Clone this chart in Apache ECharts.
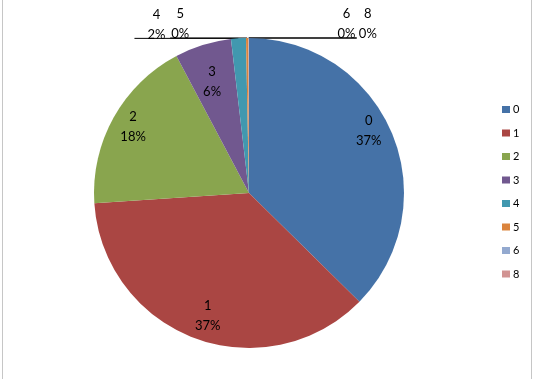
<!DOCTYPE html>
<html>
<head>
<meta charset="utf-8">
<script src="https://cdn.jsdelivr.net/npm/echarts@6/dist/echarts.min.js"></script>
<style>
html,body{margin:0;padding:0;background:#fff;}
#chart{width:535px;height:379px;}
</style>
</head>
<body>
<div id="chart"></div>
<script>
const categories = ['0', '1', '2', '3', '4', '5', '6', '8'];
const values = [37.4, 36.6, 18.3, 5.9, 1.55, 0.25, 0.03, 0.03];
const colors = ['#4572A7', '#AA4643', '#89A54E', '#71588F', '#4198AF', '#DB843D', '#93A9CF', '#D19392'];

const CX = 249, CY = 193, R = 155;
const FONT = 'Lato';
const total = values.reduce((a, b) => a + b, 0);
const isSmall = v => v < 3;
// label styling tweaks (px)
const insideNudge = { 0: [-8, -9], 1: [7, -7], 2: [5, 1], 3: [-1, 4] };
const leader = { 4: -104, 5: -77, 6: 108, 7: 108 };
const shift = { 4: 22, 5: 10, 6: -10, 7: 11 };

const data = categories.map((c, i) => {
  const small = isSmall(values[i]);
  return {
    name: c,
    value: values[i],
    itemStyle: { color: colors[i] },
    label: { position: small ? 'outside' : 'inside' },
    labelLine: { show: small, length: 0, length2: 20, lineStyle: { color: '#000', width: 1 } }
  };
});

const chart = echarts.init(document.getElementById('chart'));
chart.setOption({
  animation: false,
  backgroundColor: '#fff',
  graphic: [
    { type: 'line', shape: { x1: 2.5, y1: 0, x2: 2.5, y2: 379 }, style: { stroke: '#c6c6c6', lineWidth: 1 } },
    { type: 'line', shape: { x1: 531.5, y1: 0, x2: 531.5, y2: 379 }, style: { stroke: '#c6c6c6', lineWidth: 1 } }
  ],
  legend: {
    orient: 'vertical',
    left: 497,
    top: 99,
    itemWidth: 8,
    itemHeight: 7,
    itemGap: 12.5,
    icon: 'rect',
    selectedMode: false,
    data: categories,
    textStyle: { fontFamily: FONT, fontSize: 11, color: '#000', padding: [0, 0, 0, -2] }
  },
  series: [{
    type: 'pie',
    center: [CX, CY],
    radius: R,
    startAngle: 90,
    clockwise: true,
    avoidLabelOverlap: false,
    silent: true,
    emphasis: { disabled: true },
    label: {
      show: true,
      color: '#000',
      fontFamily: FONT,
      fontSize: 13,
      lineHeight: 20,
      formatter: p => p.name + '\n' + Math.round(p.value / total * 100) + '%'
    },
    labelLayout: function (p) {
      const i = p.dataIndex;
      if (!isSmall(values[i])) {
        const r = p.labelRect;
        const mx = r.x + r.width / 2, my = r.y + r.height / 2;
        const k = i === 3 ? 1.5 : 1.72;
        const n = insideNudge[i] || [0, 0];
        return { x: CX + (mx - CX) * k + n[0], y: CY + (my - CY) * k + n[1], align: 'center', verticalAlign: 'middle' };
      }
      const pts = p.labelLinePoints || [[CX, CY - R]];
      const start = pts[0];
      const endX = start[0] + leader[i];
      return {
        x: endX + shift[i],
        y: start[1] + 6,
        align: 'center',
        verticalAlign: 'bottom',
        labelLinePoints: [[start[0], start[1]], [endX, start[1]]]
      };
    },
    data: data
  }]
});
</script>
</body>
</html>
